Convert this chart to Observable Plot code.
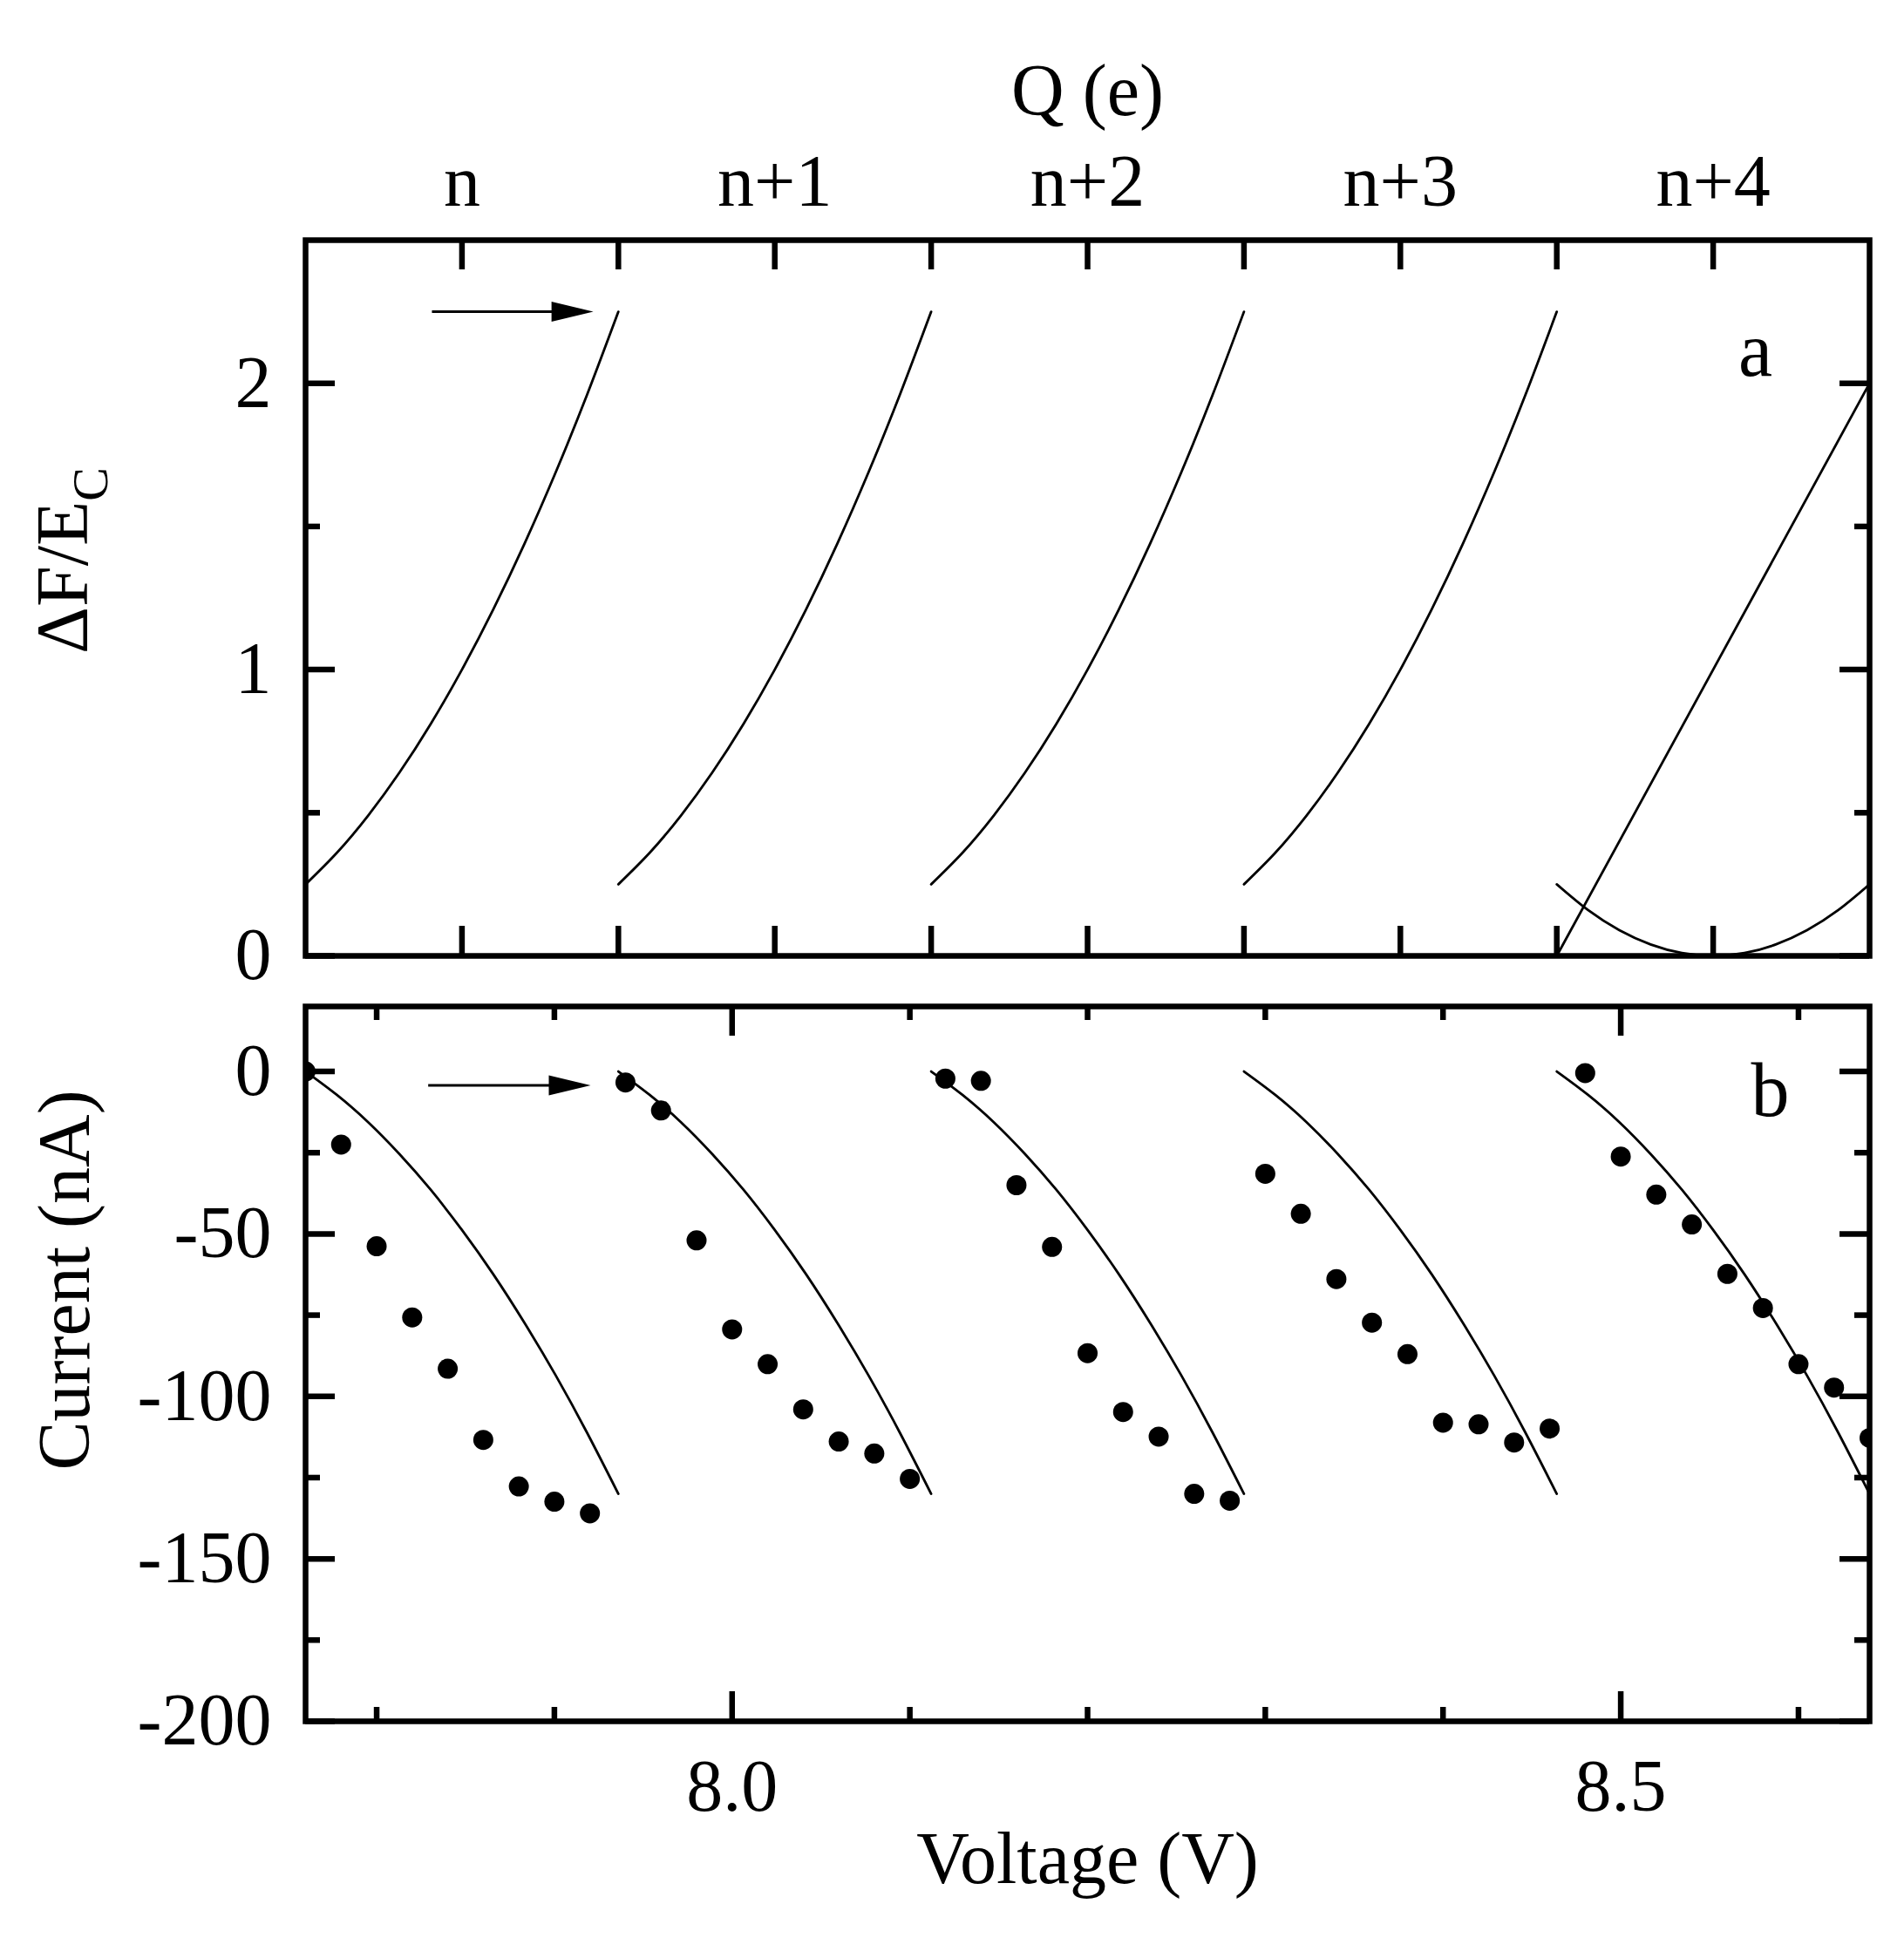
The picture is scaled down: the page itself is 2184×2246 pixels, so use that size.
<!DOCTYPE html>
<html><head><meta charset="utf-8">
<script src="https://cdn.jsdelivr.net/npm/d3@7"></script>
<script src="https://cdn.jsdelivr.net/npm/@observablehq/plot@0.6"></script>
<style>
html,body{margin:0;padding:0;background:#fff}
svg{display:block}
</style>
</head><body><div id="chart"></div>
<script>
// ---------- data ----------
// panel a: charge axis in units of e relative to n
const qTicks = [0, 1, 2, 3, 4];
const qLabels = ["n", "n+1", "n+2", "n+3", "n+4"];
const qMinorTicks = [0, 0.5, 1, 1.5, 2, 2.5, 3, 3.5, 4];
const branchStartsQ = [-0.5, 0.5, 1.5, 2.5];      // start of each branch (Q-n)
const branchWidthQ = 1;
const branchF = [0.25, 0.36, 0.49, 0.64, 0.81, 1.00, 1.21, 1.44, 1.69, 1.96, 2.25]; // ΔF/Ec along a branch
const lastLineQ = [3.5, 4.5];
const lastLineF = [0, 2.0];
const lastParabolaStartQ = 3.5;
const lastParabolaF = [0.25, 0.16, 0.09, 0.04, 0.01, 0.00, 0.01, 0.04, 0.09, 0.16, 0.25];
const fMajorTicks = [0, 1, 2];
const fMinorTicks = [0.5, 1.5];
const arrowA = {x1: -0.096, x2: 0.42, y: 2.25};

// panel b: current vs voltage
const branchStartsV = [7.76, 7.936, 8.112, 8.288, 8.464];
const branchWidthV = 0.176;
const branchI = [0, -7.2, -15.6, -25.4, -36.4, -48.8, -62.4, -77.4, -93.6, -111.2, -130]; // model current along a branch (nA)
const voltages = [
  7.76, 7.78, 7.80, 7.82, 7.84, 7.86, 7.88, 7.90, 7.92,
  7.94, 7.96, 7.98, 8.00, 8.02, 8.04, 8.06, 8.08, 8.10,
  8.12, 8.14, 8.16, 8.18, 8.20, 8.22, 8.24, 8.26, 8.28,
  8.30, 8.32, 8.34, 8.36, 8.38, 8.40, 8.42, 8.44, 8.46,
  8.48, 8.50, 8.52, 8.54, 8.56, 8.58, 8.60, 8.62, 8.64
];
const currents = [
  0, -22.5, -53.8, -75.7, -91.5, -113.4, -127.7, -132.4, -136.0,
  -3.4, -12.0, -52.0, -79.4, -90.1, -104.0, -113.9, -117.6, -125.4,
  -2.2, -2.9, -35.0, -54.0, -86.7, -104.8, -112.4, -130.0, -132.1,
  -31.5, -43.8, -63.9, -77.3, -87.0, -108.1, -108.6, -114.2, -109.9,
  -0.5, -26.2, -37.9, -47.1, -62.3, -72.8, -90.1, -97.3, -112.8
];
const vMajorTicks = [8.0, 8.5];
const vMinorTicks = [7.8, 7.9, 8.1, 8.2, 8.3, 8.4, 8.6];
const iMajorTicks = [0, -50, -100, -150, -200];
const iMinorTicks = [-25, -75, -125, -175];
const arrowB = {x1: 7.829, x2: 7.9204, y: -4.3};

// ---------- tables built from the arrays ----------
const nA = branchF.length - 1;
const curvesA = branchStartsQ.flatMap((s, k) => branchF.map((f, i) => ({seg: k, q: s + branchWidthQ * i / nA, f})));
const lineA = lastLineQ.map((q, i) => ({q, f: lastLineF[i]}));
const parabolaA = lastParabolaF.map((f, i) => ({q: lastParabolaStartQ + branchWidthQ * i / (lastParabolaF.length - 1), f}));
const nB = branchI.length - 1;
const curvesB = branchStartsV.flatMap((s, k) => branchI.map((c, i) => ({seg: k, v: s + branchWidthV * i / nB, c})));
const dots = voltages.map((v, i) => ({v, c: currents[i]}));

// ---------- styling ----------
const W = 2184;
const FONT = "Liberation Serif, 'Times New Roman', serif";
const FS = 84;
const lw = 2.8, fw = 6.5, tw = 6.5;
const arrowHead = {draw(ctx) { ctx.moveTo(0, 0); ctx.lineTo(-48, -11.5); ctx.lineTo(-48, 11.5); ctx.closePath(); }};

// panel a geometry
const aH = 1120, aTop = 275, aBottom = 24, mL = 350, mR = 40;
const innerW = W - mL - mR;
const aInnerH = aH - aTop - aBottom;

const plotA = Plot.plot({
  width: W, height: aH,
  marginTop: aTop, marginBottom: aBottom, marginLeft: mL, marginRight: mR,
  style: {fontFamily: FONT, fontSize: FS + "px", color: "black", background: "white", overflow: "visible"},
  x: {domain: [-0.5, 4.5]},
  y: {domain: [0, 2.5]},
  marks: [
    Plot.line(curvesA, {x: "q", y: "f", z: "seg", curve: "natural", stroke: "black", strokeWidth: lw}),
    Plot.line(lineA, {x: "q", y: "f", stroke: "black", strokeWidth: lw}),
    Plot.line(parabolaA, {x: "q", y: "f", curve: "natural", stroke: "black", strokeWidth: lw}),
    // inward ticks
    Plot.tickX(qMinorTicks, {x: d => d, insetBottom: aInnerH - 34, stroke: "black", strokeWidth: tw}),
    Plot.tickX(qMinorTicks, {x: d => d, insetTop: aInnerH - 34, stroke: "black", strokeWidth: tw}),
    Plot.tickY(fMajorTicks, {y: d => d, insetRight: innerW - 34, stroke: "black", strokeWidth: tw}),
    Plot.tickY(fMajorTicks, {y: d => d, insetLeft: innerW - 34, stroke: "black", strokeWidth: tw}),
    Plot.tickY(fMinorTicks, {y: d => d, insetRight: innerW - 17, stroke: "black", strokeWidth: tw}),
    Plot.tickY(fMinorTicks, {y: d => d, insetLeft: innerW - 17, stroke: "black", strokeWidth: tw}),
    Plot.frame({stroke: "black", strokeWidth: fw}),
    Plot.axisX({anchor: "top", ticks: qTicks, tickFormat: d => qLabels[qTicks.indexOf(d)], tickSize: 0, tickPadding: 40, fontSize: FS, label: null}),
    Plot.axisY({anchor: "left", ticks: fMajorTicks, tickFormat: d => String(d), tickSize: 0, tickPadding: 39, fontSize: FS, label: null}),
    Plot.text(["Q (e)"], {text: d => d, frameAnchor: "top", textAnchor: "middle", lineAnchor: "bottom", dy: -144, fontSize: FS}),
    Plot.text(["ΔF/E"], {text: d => d, frameAnchor: "left", textAnchor: "middle", rotate: -90, dx: -277, dy: -43, fontSize: FS}),
    Plot.text(["a"], {text: d => d, frameAnchor: "top-right", textAnchor: "middle", lineAnchor: "bottom", dx: -131, dy: 155, fontSize: FS + 4}),
    Plot.link([arrowA], {x1: "x1", x2: d => d.x2 - 0.05, y1: "y", y2: "y", stroke: "black", strokeWidth: 3}),
    Plot.dot([arrowA], {x: "x2", y: "y", symbol: arrowHead, fill: "black", stroke: "none"})
  ]
});

// panel b geometry
const bH = 1126, bTop = 34, bBottom = 272;
const bInnerH = bH - bTop - bBottom;

const plotB = Plot.plot({
  width: W, height: bH,
  marginTop: bTop, marginBottom: bBottom, marginLeft: mL, marginRight: mR,
  style: {fontFamily: FONT, fontSize: FS + "px", color: "black", background: "white", overflow: "visible"},
  x: {domain: [7.76, 8.64]},
  y: {domain: [-200, 20]},
  marks: [
    Plot.line(curvesB, {x: "v", y: "c", z: "seg", curve: "natural", stroke: "black", strokeWidth: lw}),
    Plot.dot(dots, {x: "v", y: "c", r: 11.5, fill: "black", stroke: "none", clip: true}),
    Plot.tickX(vMajorTicks, {x: d => d, insetBottom: bInnerH - 34, stroke: "black", strokeWidth: tw}),
    Plot.tickX(vMajorTicks, {x: d => d, insetTop: bInnerH - 34, stroke: "black", strokeWidth: tw}),
    Plot.tickX(vMinorTicks, {x: d => d, insetBottom: bInnerH - 16, stroke: "black", strokeWidth: tw}),
    Plot.tickX(vMinorTicks, {x: d => d, insetTop: bInnerH - 16, stroke: "black", strokeWidth: tw}),
    Plot.tickY(iMajorTicks, {y: d => d, insetRight: innerW - 34, stroke: "black", strokeWidth: tw}),
    Plot.tickY(iMajorTicks, {y: d => d, insetLeft: innerW - 34, stroke: "black", strokeWidth: tw}),
    Plot.tickY(iMinorTicks, {y: d => d, insetRight: innerW - 17, stroke: "black", strokeWidth: tw}),
    Plot.tickY(iMinorTicks, {y: d => d, insetLeft: innerW - 17, stroke: "black", strokeWidth: tw}),
    Plot.frame({stroke: "black", strokeWidth: fw}),
    Plot.axisX({anchor: "bottom", ticks: vMajorTicks, tickFormat: d => d.toFixed(1), tickSize: 0, tickPadding: 43, fontSize: FS, label: null}),
    Plot.axisY({anchor: "left", ticks: iMajorTicks, tickFormat: d => String(d), tickSize: 0, tickPadding: 39, fontSize: FS, label: null}),
    Plot.text(["Voltage (V)"], {text: d => d, frameAnchor: "bottom", textAnchor: "middle", lineAnchor: "bottom", dy: 185, fontSize: FS}),
    Plot.text(["Current (nA)"], {text: d => d, frameAnchor: "left", textAnchor: "middle", rotate: -90, dx: -275, dy: -96, fontSize: FS}),
    Plot.text(["b"], {text: d => d, frameAnchor: "top-right", textAnchor: "middle", lineAnchor: "bottom", dx: -114, dy: 125, fontSize: FS + 4}),
    Plot.link([arrowB], {x1: "x1", x2: d => d.x2 - 0.01, y1: "y", y2: "y", stroke: "black", strokeWidth: 3}),
    Plot.dot([arrowB], {x: "x2", y: "y", symbol: arrowHead, fill: "black", stroke: "none"})
  ]
});

// subscript C on the ΔF/E label
d3.select(plotA).selectAll("text").filter(function() { return this.textContent === "ΔF/E"; })
  .append("tspan").attr("dy", 23).attr("font-size", "0.69em").text("C");

const chart = document.getElementById("chart");
chart.appendChild(plotA);
chart.appendChild(plotB);
</script>
</body></html>
